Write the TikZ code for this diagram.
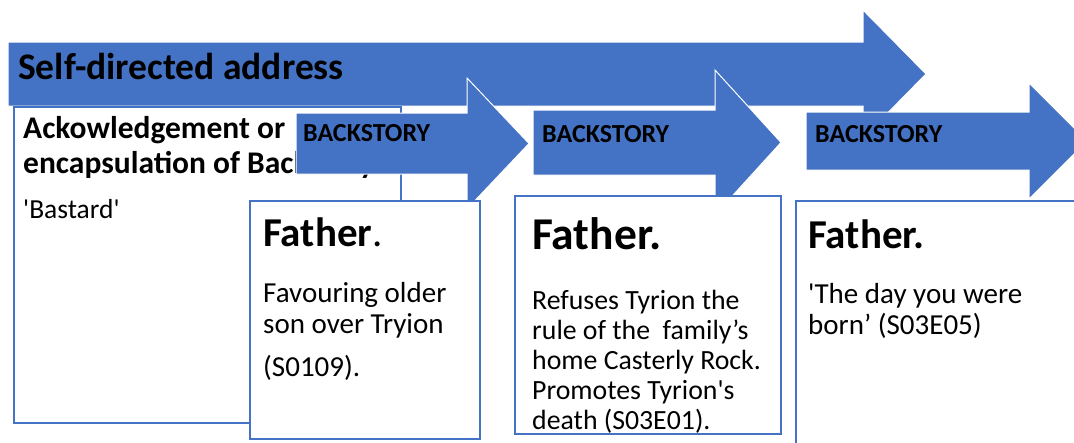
\documentclass[tikz,border=0pt]{standalone}
\usepackage{fontspec}
\setmainfont{Carlito}
\usetikzlibrary{positioning}
\definecolor{accent}{HTML}{4472C4}
\tikzstyle{band} = [fill=accent, draw=white, line width=1pt]
\tikzstyle{panel} = [rectangle, draw=accent, fill=white, line width=1.5pt,
inner sep=0pt, anchor=north west]
\tikzstyle{tag} = [anchor=base west, inner sep=0pt, font=\fontsize{26}{30}\selectfont\bfseries]
\tikzstyle{heading} = [anchor=base west, inner sep=0pt, font=\fontsize{41}{46}\selectfont\bfseries]
\tikzstyle{body} = [anchor=base west, inner sep=0pt, font=\fontsize{29}{31}\selectfont]
\newcommand{\stack}[1]{\begin{tabular}[t]{@{}l@{}}#1\end{tabular}}
\begin{document}
\begin{tikzpicture}[x=1pt, y=-1pt]
\clip (0,0) rectangle (1074,442);
% Long arrow
\path [band] (8,42) -- (863,42) -- (863,10) -- (926,74) -- (863,138) -- (863,106) -- (8,106) -- cycle;
\node [anchor=base west, inner sep=0pt, font=\fontsize{37.5}{40}\selectfont\bfseries] (address) at (18,79) {Self-directed address};
% First panel
\node [panel, minimum width=387pt, minimum height=316pt] (trope) at (13,106) {};
\node [body, font=\fontsize{31.5}{35}\selectfont\bfseries] (ack) at (23,138) {\stack{Ackowledgement or\\encapsulation of Backstory}};
\node [body, font=\fontsize{27.5}{31}\selectfont] (bastard) at (23,218) {\textquotesingle Bastard\textquotesingle};
% Backstory 1
\path [band] (296,113) -- (467,113) -- (467,78) -- (529,143.5) -- (467,209) -- (467,174) -- (296,174) -- cycle;
\node [tag] (storyA) at (303,141) {BACKSTORY};
\node [panel, minimum width=230pt, minimum height=238pt] (fatherA) at (249,200) {};
\node [heading] (headA) at (263,246) {Father{\mdseries .}};
\node [body] (textA) at (263,302) {\stack{Favouring older\\son over Tryion\\[12pt](S0109).}};
% Backstory 2
\path [band] (533,110) -- (715,110) -- (715,70) -- (781,142.5) -- (715,215) -- (715,175) -- (533,175) -- cycle;
\node [tag] (storyB) at (542,142) {BACKSTORY};
\node [panel, minimum width=266pt, minimum height=238pt] (fatherB) at (514,195) {};
\node [heading, font=\fontsize{45.5}{50}\selectfont\bfseries] (headB) at (532,249) {Father.};
\node [body, font=\fontsize{27.8}{30}\selectfont] (textB) at (532,309) {\stack{Refuses Tyrion the\\rule of the\ \ family’s\\home Casterly Rock.\\Promotes Tyrion\textquotesingle s\\death (S03E01).}};
% Backstory 3
\path [band] (806,112) -- (1029,112) -- (1029,83) -- (1087,141) -- (1029,199) -- (1029,170) -- (806,170) -- cycle;
\node [tag] (storyC) at (815,142) {BACKSTORY};
\node [panel, minimum width=300pt, minimum height=260pt] (fatherC) at (795,200) {};
\node [heading] (headC) at (808,248) {Father.};
\node [body] (textC) at (808,303) {\stack{\textquotesingle The day you were\\born’ (S03E05)}};
\end{tikzpicture}
\end{document}
